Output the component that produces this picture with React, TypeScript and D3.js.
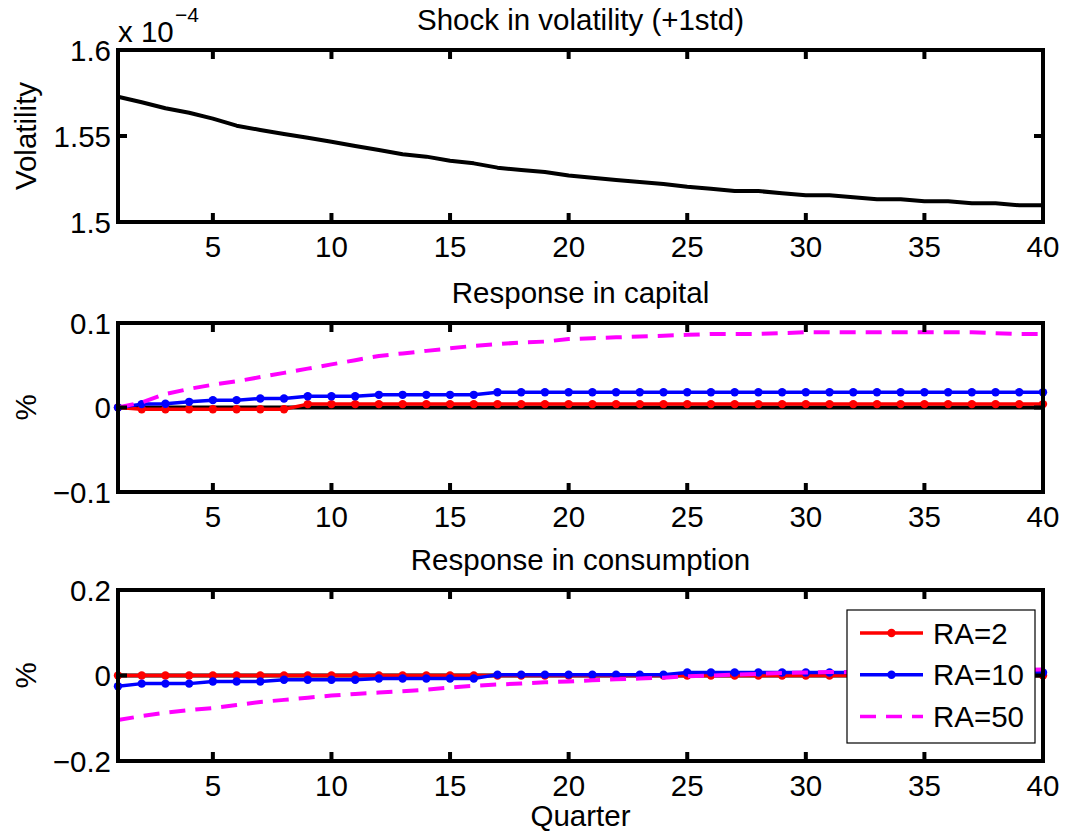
import React from 'react';
import * as d3 from 'd3';

const quarters = [1,2,3,4,5,6,7,8,9,10,11,12,13,14,15,16,17,18,19,20,21,22,23,24,25,26,27,28,29,30,31,32,33,34,35,36,37,38,39,40];

// Volatility (x 1e-4)
const volatility = [1.5728,1.5696,1.5661,1.5635,1.5601,1.5560,1.5535,1.5512,1.5490,1.5467,1.5442,1.5419,1.5394,1.5380,1.5356,1.5341,1.5316,1.5302,1.5291,1.5270,1.5257,1.5244,1.5233,1.5221,1.5205,1.5194,1.5180,1.5180,1.5167,1.5155,1.5155,1.5144,1.5132,1.5132,1.5120,1.5120,1.5109,1.5109,1.5097,1.5097];

// Response in capital (%)
const capitalRA2 = [0,-0.002,-0.002,-0.002,-0.002,-0.002,-0.002,-0.002,0.004,0.004,0.004,0.004,0.004,0.004,0.004,0.004,0.004,0.004,0.004,0.004,0.004,0.004,0.004,0.004,0.004,0.004,0.004,0.004,0.004,0.004,0.004,0.004,0.004,0.004,0.004,0.004,0.004,0.004,0.004,0.004];
const capitalRA10 = [0,0.004,0.0045,0.0067,0.0087,0.0087,0.0107,0.0107,0.0134,0.0134,0.0134,0.015,0.015,0.015,0.015,0.015,0.018,0.018,0.018,0.018,0.018,0.018,0.018,0.018,0.018,0.018,0.018,0.018,0.018,0.018,0.018,0.018,0.018,0.018,0.018,0.018,0.018,0.018,0.018,0.018];
const capitalRA50 = [0,0.006,0.016,0.022,0.027,0.031,0.036,0.041,0.046,0.051,0.056,0.061,0.064,0.067,0.070,0.073,0.075,0.077,0.078,0.081,0.082,0.083,0.084,0.085,0.086,0.087,0.087,0.087,0.088,0.089,0.089,0.089,0.089,0.089,0.089,0.089,0.089,0.088,0.087,0.087];

// Response in consumption (%)
const consRA2 = [0,0,0,0,0,0,0,0,0,0,0,0,0,0,0,0,0,0,0,0,0,0,0,0,0,0,0,0,0,0,0,0,0,0,0,0,0,0,0,0];
const consRA10 = [-0.025,-0.019,-0.019,-0.019,-0.014,-0.014,-0.014,-0.010,-0.010,-0.010,-0.010,-0.007,-0.007,-0.007,-0.007,-0.007,0.002,0.002,0.002,0.002,0.002,0.002,0.002,0.002,0.007,0.007,0.007,0.007,0.007,0.007,0.007,0.007,0.007,0.007,0.007,0.007,0.007,0.007,0.007,0.007];
const consRA50 = [-0.104,-0.095,-0.087,-0.081,-0.076,-0.069,-0.062,-0.057,-0.052,-0.047,-0.043,-0.040,-0.037,-0.033,-0.028,-0.024,-0.021,-0.019,-0.016,-0.014,-0.011,-0.009,-0.007,-0.005,-0.002,0.000,0.002,0.004,0.006,0.007,0.008,0.008,0.009,0.009,0.010,0.010,0.011,0.012,0.013,0.014];

const xTicks = [5,10,15,20,25,30,35,40];
const volTicks = [1.5,1.55,1.6];
const volTickLabels = ['1.5','1.55','1.6'];
const capTicks = [-0.1,0,0.1];
const capTickLabels = ['\u22120.1','0','0.1'];
const consTicks = [-0.2,0,0.2];
const consTickLabels = ['\u22120.2','0','0.2'];

const legendLabels = ['RA=2','RA=10','RA=50'];
const seriesColors = ['#ff0000','#0000ff','#ff00ff'];

const FONT = '"Liberation Sans", Arial, Helvetica, sans-serif';
const FS = 29.5;
const DASH = '16,10';

type Series = { values: number[]; color: string; markers: boolean; dashed: boolean; width: number };

export default function App() {
  const W = 1068, H = 834;
  const x = d3.scaleLinear().domain([1, 40]).range([118, 1043]);

  const panels = [
    { top: 50, bottom: 222, domain: [1.5, 1.6], ticks: volTicks, labels: volTickLabels, title: 'Shock in volatility (+1std)', ylabel: 'Volatility', zero: false,
      series: [{ values: volatility, color: '#000', markers: false, dashed: false, width: 4 }] as Series[] },
    { top: 323, bottom: 492, domain: [-0.1, 0.1], ticks: capTicks, labels: capTickLabels, title: 'Response in capital', ylabel: '%', zero: true,
      series: [
        { values: capitalRA2, color: seriesColors[0], markers: true, dashed: false, width: 3.5 },
        { values: capitalRA10, color: seriesColors[1], markers: true, dashed: false, width: 3.5 },
        { values: capitalRA50, color: seriesColors[2], markers: false, dashed: true, width: 4 },
      ] as Series[] },
    { top: 590, bottom: 761, domain: [-0.2, 0.2], ticks: consTicks, labels: consTickLabels, title: 'Response in consumption', ylabel: '%', zero: true,
      series: [
        { values: consRA2, color: seriesColors[0], markers: true, dashed: false, width: 3.5 },
        { values: consRA10, color: seriesColors[1], markers: true, dashed: false, width: 3.5 },
        { values: consRA50, color: seriesColors[2], markers: false, dashed: true, width: 4 },
      ] as Series[] },
  ];

  const tickLen = 9;
  const left = x.range()[0], right = x.range()[1];

  return (
    <svg width={W} height={H} style={{ position: 'absolute', left: 0, top: 0, background: '#fff' }} fontFamily={FONT}>
      <rect x={0} y={0} width={W} height={H} fill="#fff" />
      {panels.map((p, pi) => {
        const y = d3.scaleLinear().domain(p.domain).range([p.bottom, p.top]);
        const line = d3.line<number>().x((_, i) => x(quarters[i])).y(v => y(v));
        const midY = (p.top + p.bottom) / 2;
        return (
          <g key={pi}>
            <text x={(left + right) / 2} y={p.top - 20} textAnchor="middle" fontSize={FS}>{p.title}</text>
            <text transform={`translate(${36},${midY}) rotate(-90)`} textAnchor="middle" fontSize={FS}>{p.ylabel}</text>
            {p.zero && <line x1={left} x2={right} y1={y(0)} y2={y(0)} stroke="#000" strokeWidth={4} />}
            {p.series.map((s, si) => (
              <g key={si}>
                <path d={line(s.values) || ''} fill="none" stroke={s.color} strokeWidth={s.width}
                  strokeDasharray={s.dashed ? DASH : undefined} strokeLinejoin="round" />
                {s.markers && s.values.map((v, i) => (
                  <circle key={i} cx={x(quarters[i])} cy={y(v)} r={4.2} fill={s.color} />
                ))}
              </g>
            ))}
            <rect x={left} y={p.top} width={right - left} height={p.bottom - p.top} fill="none" stroke="#000" strokeWidth={4} />
            {xTicks.map(t => (
              <g key={t}>
                <line x1={x(t)} x2={x(t)} y1={p.bottom} y2={p.bottom - tickLen} stroke="#000" strokeWidth={4} />
                <line x1={x(t)} x2={x(t)} y1={p.top} y2={p.top + tickLen} stroke="#000" strokeWidth={4} />
                <text x={x(t)} y={p.bottom + 35} textAnchor="middle" fontSize={FS}>{t}</text>
              </g>
            ))}
            {p.ticks.map((t, i) => (
              <g key={i}>
                <line x1={left} x2={left + tickLen} y1={y(t)} y2={y(t)} stroke="#000" strokeWidth={4} />
                <line x1={right} x2={right - tickLen} y1={y(t)} y2={y(t)} stroke="#000" strokeWidth={4} />
                <text x={left - 7} y={y(t) + 10.5} textAnchor="end" fontSize={FS}>{p.labels[i]}</text>
              </g>
            ))}
          </g>
        );
      })}
      <text x={118} y={42} fontSize={FS}>x 10</text>
      <text x={175} y={22} fontSize={21}>{'\u22124'}</text>
      <text x={(left + right) / 2} y={826} textAnchor="middle" fontSize={FS}>Quarter</text>
      <g>
        <rect x={847} y={610} width={188} height={133} fill="#fff" stroke="#000" strokeWidth={1.2} />
        {legendLabels.map((lab, i) => {
          const ly = 633 + i * 41.8;
          return (
            <g key={lab}>
              <line x1={860} x2={923} y1={ly} y2={ly} stroke={seriesColors[i]} strokeWidth={3.5}
                strokeDasharray={i === 2 ? DASH : undefined} />
              {i < 2 && <circle cx={891.5} cy={ly} r={4.2} fill={seriesColors[i]} />}
              <text x={933} y={ly + 10.5} fontSize={FS}>{lab}</text>
            </g>
          );
        })}
      </g>
    </svg>
  );
}
